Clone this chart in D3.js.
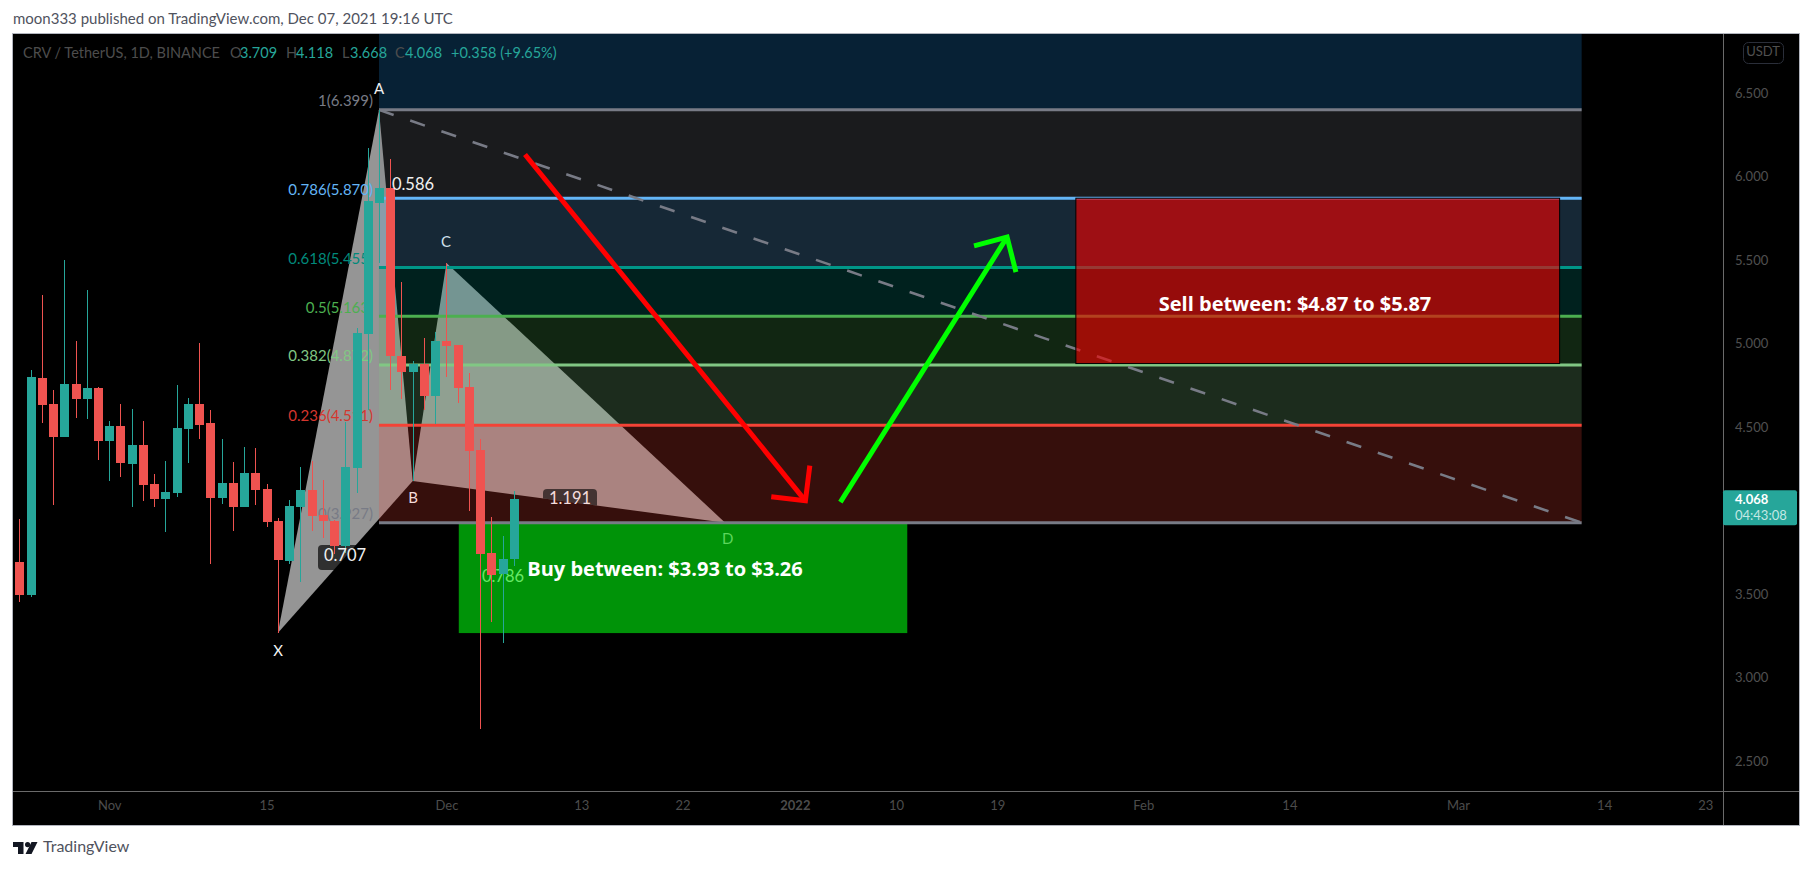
<!DOCTYPE html>
<html><head><meta charset="utf-8">
<script src="https://cdn.jsdelivr.net/npm/d3@7"></script>
<style>html,body{margin:0;padding:0;background:#fff;overflow:hidden}svg{display:block}text{font-family:Lato,"Open Sans",sans-serif}</style>
</head><body><svg id="c" width="1813" height="870"></svg>
<script>
// ---- candle data (day index 0 = 24 Oct 2021) ----
const candleOpen=[3.692,3.494,4.793,4.638,4.440,4.758,4.668,4.734,4.416,4.506,4.278,4.392,4.159,4.069,4.105,4.488,4.638,4.524,4.075,4.165,4.021,4.225,4.129,3.937,3.698,4.021,4.123,3.973,3.937,3.787,4.254,5.057,5.841,5.931,4.925,4.829,4.877,4.686,5.015,4.991,4.740,4.362,3.746,3.620,3.709];
const candleHigh=[3.949,4.841,5.290,4.722,5.500,5.015,5.320,4.740,4.536,4.638,4.608,4.536,4.219,4.296,4.752,4.674,5.003,4.602,4.428,4.290,4.380,4.374,4.159,3.955,4.063,4.260,4.296,4.183,3.943,4.530,5.093,6.171,6.399,6.105,5.368,4.895,5.033,5.069,5.482,4.991,4.823,4.428,3.961,3.847,4.118];
const candleLow=[3.452,3.484,4.524,4.033,4.440,4.554,4.548,4.302,4.177,4.200,4.021,4.057,4.021,3.871,4.081,4.284,4.428,3.680,4.039,3.877,4.021,4.033,3.901,3.266,3.680,3.572,3.877,3.835,3.740,3.744,4.105,4.602,5.482,4.722,4.668,4.177,4.602,4.518,4.799,4.644,3.997,2.692,3.332,3.207,3.668];
const candleClose=[3.494,4.799,4.632,4.440,4.758,4.668,4.734,4.416,4.506,4.284,4.392,4.153,4.069,4.111,4.494,4.638,4.512,4.075,4.165,4.021,4.225,4.123,3.931,3.704,4.027,4.123,3.967,3.937,3.787,4.260,5.063,5.853,5.931,4.925,4.829,4.877,4.686,5.015,4.985,4.734,4.356,3.740,3.614,3.710,4.068];
// ---- axes ----
const priceTicks=[6.5,6,5.5,5,4.5,3.5,3,2.5];
const timeTickDays=[8,22,38,50,59,69,78,87,100,113,128,141,150];
const timeTickLabels=["Nov","15","Dec","13","22","2022","10","19","Feb","14","Mar","14","23"];
// ---- fibonacci retracement ----
const fibRatios=[1,0.786,0.618,0.5,0.382,0.236,0];
const fibPrices=[6.399,5.870,5.455,5.163,4.872,4.511,3.927];
const fibLineColors=["#787b86","#64b5f6","#009688","#4caf50","#81c784","#f44336","#787b86"];
const fibLabelColors=["#787b86","#64b5f6","#00897b","#4caf50","#81c784","#d5362e","#787b86"];
const fibTopZoneColor="#2196f3";
const fibStartDay=32, fibEndDay=139;
// ---- XABCD pattern ----
const patternNames=["X","A","B","C","D"];
const patternDays=[23,32,35,38,62.8];
const patternPrices=[3.266,6.399,4.177,5.482,3.927];
// ---- trend, arrows, zones ----
const trendDays=[32,139], trendPrices=[6.399,3.927];
const downArrowDays=[44.99,69.94], downArrowPrices=[6.132,4.058];
const downHeadDays=[66.9,70.33], downHeadPrices=[4.082,4.269];
const upArrowDays=[73.05,87.88], upArrowPrices=[4.05,5.637];
const upHeadDays=[84.94,88.67], upHeadPrices=[5.585,5.428];
const buyZoneDays=[39.1,79], buyZonePrices=[3.925,3.266];
const sellZoneDays=[94,137.04], sellZonePrices=[5.87,4.88];

const svg=d3.select("#c");
const x=d3.scaleLinear().domain([0,150]).range([19.3,1705.3]);
const y=d3.scaleLinear().domain([6.5,2.5]).range([93,761]);
const L=13,T=34,R=1723,B=791,OR=1799,OB=825;

svg.append("rect").attr("x",L).attr("y",T).attr("width",OR-L).attr("height",OB-T).attr("fill","#000");
const defs=svg.append("defs");
defs.append("clipPath").attr("id","plot").append("rect").attr("x",L).attr("y",T).attr("width",R-L).attr("height",B-T);
const pt=i=>[x(patternDays[i]),y(patternPrices[i])];
defs.append("clipPath").attr("id","bcd").append("polygon").attr("points",[pt(2),pt(3),pt(4)].map(p=>p.join(",")).join(" "));
const plot=svg.append("g").attr("clip-path","url(#plot)");

// buy zone
plot.append("rect").attr("x",x(buyZoneDays[0])).attr("width",x(buyZoneDays[1])-x(buyZoneDays[0]))
 .attr("y",y(buyZonePrices[0])).attr("height",y(buyZonePrices[1])-y(buyZonePrices[0])).attr("fill","#009308");
// pattern
const fillOp=0.585;
plot.append("polygon").attr("points",[pt(0),pt(1),pt(2)].map(p=>p.join(",")).join(" ")).attr("fill","#fff").attr("fill-opacity",fillOp);
plot.append("polygon").attr("points",[pt(2),pt(3),pt(4)].map(p=>p.join(",")).join(" ")).attr("fill","#fff").attr("fill-opacity",fillOp);
// fib labels (over the pattern, under the candles)
fibPrices.forEach((p,i)=>{
  plot.append("text").attr("x",373).attr("y",y(p)-7.5).attr("text-anchor","end").attr("dominant-baseline","middle")
   .attr("font-size",15).attr("fill",fibLabelColors[i]).text(`${fibRatios[i]}(${p.toFixed(3)})`);
});
// fib zones (translucent, on top of the pattern)
const zoneOp=0.22;
plot.append("rect").attr("x",x(fibStartDay)).attr("width",x(fibEndDay)-x(fibStartDay)).attr("y",T).attr("height",y(fibPrices[0])-T).attr("fill",fibTopZoneColor).attr("fill-opacity",zoneOp);
fibPrices.slice(0,-1).forEach((p,i)=>{
  plot.append("rect").attr("x",x(fibStartDay)).attr("width",x(fibEndDay)-x(fibStartDay))
   .attr("y",y(p)).attr("height",y(fibPrices[i+1])-y(p)).attr("fill",fibLineColors[i]).attr("fill-opacity",zoneOp);
});
// fib lines
fibPrices.forEach((p,i)=>{
  plot.append("line").attr("x1",x(fibStartDay)).attr("x2",x(fibEndDay)).attr("y1",y(p)).attr("y2",y(p))
   .attr("stroke",fibLineColors[i]).attr("stroke-width",3);
});
// trend line
plot.append("line").attr("x1",x(trendDays[0])).attr("x2",x(trendDays[1])).attr("y1",y(trendPrices[0])).attr("y2",y(trendPrices[1]))
 .attr("stroke","#787b86").attr("stroke-width",2.6).attr("stroke-dasharray","15.5 17.5");
// sell zone
plot.append("rect").attr("x",x(sellZoneDays[0])).attr("width",x(sellZoneDays[1])-x(sellZoneDays[0]))
 .attr("y",y(sellZonePrices[0])).attr("height",y(sellZonePrices[1])-y(sellZonePrices[0]))
 .attr("fill","#f20000").attr("fill-opacity",0.62).attr("stroke","#000").attr("stroke-width",1);
// ratio badges
plot.append("rect").attr("x",318).attr("y",545).attr("width",54).attr("height",25).attr("rx",4).attr("fill","#000").attr("fill-opacity",0.68);
plot.append("g").attr("clip-path","url(#bcd)").append("rect").attr("x",543).attr("y",489).attr("width",54).attr("height",30).attr("rx",4).attr("fill","#000").attr("fill-opacity",0.6);
// 0.786 label under candles
plot.append("text").attr("x",503).attr("y",577.7).attr("text-anchor","middle").attr("dominant-baseline","middle").attr("font-size",16.5).attr("fill","#66e866").text("0.786");

// candles
const up=i=>candleClose[i]>=candleOpen[i];
const col=i=>up(i)?"#26a69a":"#ef5350";
const idx=d3.range(candleOpen.length);
const cg=plot.append("g").attr("shape-rendering","crispEdges");
cg.selectAll("line").data(idx).join("line")
 .attr("x1",i=>Math.round(x(i))+.5).attr("x2",i=>Math.round(x(i))+.5)
 .attr("y1",i=>y(candleHigh[i])).attr("y2",i=>y(candleLow[i])).attr("stroke",col).attr("stroke-width",1);
cg.selectAll("rect").data(idx).join("rect")
 .attr("x",i=>Math.round(x(i))-4).attr("width",9)
 .attr("y",i=>y(Math.max(candleOpen[i],candleClose[i])))
 .attr("height",i=>Math.abs(y(candleOpen[i])-y(candleClose[i]))).attr("fill",col);

// arrows
function poly(days,prices,c){
  plot.append("path").attr("d",d3.line()(days.map((d,i)=>[x(d),y(prices[i])]))).attr("fill","none").attr("stroke",c).attr("stroke-width",5);
}
poly(downArrowDays,downArrowPrices,"#ff0000");
poly([downHeadDays[0],downArrowDays[1],downHeadDays[1]],[downHeadPrices[0],downArrowPrices[1],downHeadPrices[1]],"#ff0000");
poly(upArrowDays,upArrowPrices,"#00ff00");
poly([upHeadDays[0],upArrowDays[1],upHeadDays[1]],[upHeadPrices[0],upArrowPrices[1],upHeadPrices[1]],"#00ff00");

// point labels
const lab=(t,px,py,c,s,w,f)=>{const e=plot.append("text").attr("x",px).attr("y",py).attr("text-anchor","middle").attr("dominant-baseline","middle").attr("font-size",s||15).attr("font-weight",w||400).attr("fill",c).text(t);if(f)e.style("font-family",f);return e;};
lab("X",278,652,"#f5f5f5");lab("A",379,90,"#f0f0f0");lab("B",413,499,"#f5dcdc");lab("C",446,243,"#d0e0ec");lab("D",727.7,540,"#5cd65c");
lab("0.586",413,186,"#f0f0f0",16.5);lab("0.707",345,557,"#f0f0f0",16.5);lab("1.191",570,500,"#f5dcdc",16.5);
lab("Buy between: $3.93 to $3.26",665,571,"#fff",20,700,"'Open Sans',sans-serif");
lab("Sell between: $4.87 to $5.87",1295,306,"#fff",20,700,"'Open Sans',sans-serif");

// legend
const legendOHLC=["3.709","4.118","3.668","4.068"], legendKeys=["O","H","L","C"];
const lg=svg.append("g").attr("font-size",14.5);
const lgt=(t,px,c)=>lg.append("text").attr("x",px).attr("y",54).attr("dominant-baseline","middle").attr("fill",c).text(t);
lgt("CRV / TetherUS, 1D, BINANCE",23,"#4d4d4d");
[230,286,342,395].forEach((px,i)=>{lgt(legendKeys[i],px,"#4d4d4d");lgt(legendOHLC[i],px+(i===2?8:10),"#26a69a");});
lgt("+0.358 (+9.65%)",451,"#26a69a");

// price axis
const yAxis=svg.append("g").attr("transform",`translate(${R},0)`).call(d3.axisRight(y).tickValues(priceTicks).tickFormat(d3.format(".3f")).tickSize(0).tickPadding(12));
yAxis.select(".domain").remove();
yAxis.selectAll("text").attr("font-size",13).attr("fill","#505050").style("font-family","Lato,sans-serif");
// time axis
const xAxis=svg.append("g").attr("transform",`translate(0,${B})`).call(d3.axisBottom(x).tickValues(timeTickDays).tickFormat((d,i)=>timeTickLabels[i]).tickSize(0).tickPadding(10));
xAxis.select(".domain").remove();
xAxis.selectAll("text").attr("font-size",13).attr("fill","#4c4c4c").attr("font-weight",(d,i)=>timeTickLabels[i]==="2022"?700:400).style("font-family","Lato,sans-serif");

// frame
svg.append("line").attr("x1",R+.5).attr("x2",R+.5).attr("y1",T).attr("y2",OB).attr("stroke","#6a6a6a");
svg.append("line").attr("x1",L).attr("x2",OR).attr("y1",B+.5).attr("y2",B+.5).attr("stroke","#6a6a6a");
svg.append("rect").attr("x",L-.5).attr("y",T-.5).attr("width",OR-L+1).attr("height",OB-T+1).attr("fill","none").attr("stroke","#b2b5be");

// USDT badge
svg.append("rect").attr("x",1743.5).attr("y",42.5).attr("width",40).attr("height",21).attr("rx",5).attr("fill","none").attr("stroke","#2a2e39");
svg.append("text").attr("x",1763).attr("y",53).attr("text-anchor","middle").attr("dominant-baseline","middle").attr("font-size",13).attr("fill","#505050").text("USDT");
// price tag
const lastPrice=candleClose[candleClose.length-1];
svg.append("rect").attr("x",R).attr("y",y(lastPrice)-9).attr("width",74).attr("height",35).attr("rx",2).attr("fill","#26a69a");
svg.append("text").attr("x",1735).attr("y",500.5).attr("dominant-baseline","middle").attr("font-size",13).attr("font-weight",700).attr("fill","#fff").text(lastPrice.toFixed(3));
svg.append("text").attr("x",1735).attr("y",516.5).attr("dominant-baseline","middle").attr("font-size",13).attr("fill","#c4e8e4").text("04:43:08");

// header & footer
svg.append("text").attr("x",13).attr("y",20).attr("dominant-baseline","middle").attr("font-size",15).attr("fill","#50535e").text("moon333 published on TradingView.com, Dec 07, 2021 19:16 UTC");
svg.append("path").attr("d","M13 842h10.5v12h-5.5v-7h-5zM25.5 854L31.5 842h6L31.5 854z").attr("fill","#131722");
svg.append("circle").attr("cx",27.6).attr("cy",844.6).attr("r",2.6).attr("fill","#131722");
svg.append("text").attr("x",43).attr("y",848).attr("dominant-baseline","middle").attr("font-size",16).attr("fill","#50535e").text("TradingView");
</script></body></html>
